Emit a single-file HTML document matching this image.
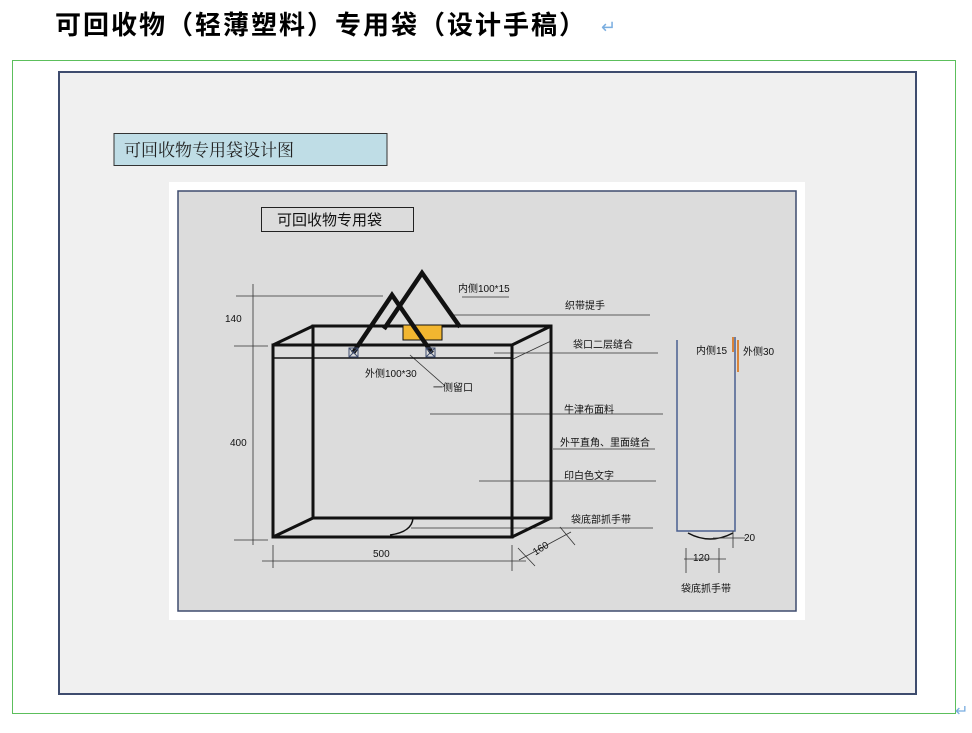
<!DOCTYPE html>
<html><head><meta charset="utf-8"><style>
body{margin:0;width:972px;height:728px;background:#fff;overflow:hidden;font-family:"Liberation Sans","Noto Sans CJK SC",sans-serif}
</style></head><body>
<svg width="972" height="728" xmlns="http://www.w3.org/2000/svg" font-family="Liberation Sans, Noto Sans CJK SC, sans-serif">
<text x="55" y="34" font-size="26" font-weight="bold" letter-spacing="2" fill="#000">可回收物（轻薄塑料）专用袋（设计手稿）</text>
<text x="601" y="33" font-size="18" fill="#7aaee0">↵</text>
<rect x="12.5" y="60.5" width="943" height="653" fill="none" stroke="#5cbf5c" stroke-width="1"/>
<text x="955" y="716" font-size="16" fill="#7aaee0">↵</text>
<rect x="59" y="72" width="857" height="622" fill="#f0f0f0" stroke="#3e4c6e" stroke-width="2"/>
<rect x="114" y="133.5" width="273" height="32" fill="#bfdde6" stroke="#333" stroke-width="1"/>
<text x="124" y="156" font-size="17" font-family="Noto Serif CJK SC, serif" fill="#222">可回收物专用袋设计图</text>
<rect x="169" y="182" width="636" height="438" fill="#fff"/>
<rect x="178" y="191" width="618" height="420" fill="#dcdcdc" stroke="#3e4c6e" stroke-width="1.5"/>
<rect x="261.5" y="207.5" width="152" height="24" fill="#dcdcdc" stroke="#222" stroke-width="1"/>
<text x="277" y="225" font-size="15" fill="#111">可回收物专用袋</text>
<g stroke="#111" fill="none">
<g stroke-width="0.8" stroke="#333">
<line x1="253" y1="284" x2="253" y2="545"/>
<line x1="236" y1="296" x2="383" y2="296"/>
<line x1="234" y1="346" x2="268" y2="346"/>
<line x1="234" y1="540" x2="268" y2="540"/>
<line x1="262" y1="561" x2="526" y2="561"/>
<line x1="273" y1="545" x2="273" y2="568"/>
<line x1="512" y1="545" x2="512" y2="571"/>
<line x1="519" y1="560" x2="571" y2="532"/>
<line x1="518" y1="548" x2="535" y2="566"/>
<line x1="560" y1="527" x2="575" y2="545"/>
<line x1="462" y1="297" x2="509" y2="297"/>
<line x1="452" y1="315" x2="650" y2="315"/>
<line x1="494" y1="353" x2="658" y2="353"/>
<line x1="511" y1="360" x2="551" y2="341"/>
<line x1="410" y1="355" x2="444" y2="385"/>
<line x1="430" y1="414" x2="663" y2="414"/>
<line x1="553" y1="449" x2="655" y2="449"/>
<line x1="479" y1="481" x2="656" y2="481"/>
<line x1="411" y1="528" x2="653" y2="528"/>
</g>
<g stroke-width="3">
<polyline points="313,518 313,326 551,326 551,518 313,518"/>
<rect x="273" y="345" width="239" height="192"/>
<line x1="273" y1="345" x2="313" y2="326"/>
<line x1="512" y1="345" x2="551" y2="326"/>
<line x1="273" y1="537" x2="313" y2="518"/>
<line x1="512" y1="537" x2="551" y2="518"/>
</g>
<line x1="273" y1="358" x2="512" y2="358" stroke-width="1.5"/>
<path d="M390,535 Q412,532 413,518" stroke-width="1.5"/>
<rect x="403" y="325" width="39" height="15" fill="#f2b630" stroke="#111" stroke-width="1"/>
<g stroke-width="4.5" stroke-linejoin="miter">
<polyline points="353,353 392,295 432,353"/>
<polyline points="384,329 422,273 460,327"/>
</g>
<g stroke="#3e4c6e" stroke-width="1"><rect x="349" y="348" width="9" height="9"/><line x1="349" y1="348" x2="358" y2="357"/><line x1="358" y1="348" x2="349" y2="357"/>
<rect x="426" y="348" width="9" height="9"/><line x1="426" y1="348" x2="435" y2="357"/><line x1="435" y1="348" x2="426" y2="357"/></g>
<polyline points="677,340 677,531 735,531 735,337" stroke="#4a5f90" stroke-width="1.5"/>
<line x1="733" y1="337" x2="733" y2="352" stroke="#d9853a" stroke-width="2"/>
<line x1="738" y1="340" x2="738" y2="372" stroke="#d9853a" stroke-width="2"/>
<path d="M688,533 Q710,545 733,533" stroke-width="1.5"/>
<g stroke-width="0.8" stroke="#333">
<line x1="713" y1="538" x2="745" y2="538"/>
<line x1="733" y1="531" x2="733" y2="548"/>
<line x1="684" y1="559" x2="726" y2="559"/>
<line x1="686" y1="548" x2="686" y2="573"/>
<line x1="719" y1="548" x2="719" y2="573"/>
</g>
</g>
<g font-size="10" fill="#111">
<text x="225" y="322">140</text>
<text x="230" y="446">400</text>
<text x="373" y="557">500</text>
<text x="532" y="552" transform="rotate(-32 540 548)">160</text>
<text x="458" y="292">内侧100*15</text>
<text x="565" y="309">织带提手</text>
<text x="573" y="348">袋口二层缝合</text>
<text x="365" y="377">外侧100*30</text>
<text x="433" y="391">一侧留口</text>
<text x="564" y="413">牛津布面料</text>
<text x="560" y="446">外平直角、里面缝合</text>
<text x="564" y="479">印白色文字</text>
<text x="571" y="523">袋底部抓手带</text>
<text x="696" y="354">内侧15</text>
<text x="743" y="355">外侧30</text>
<text x="744" y="541">20</text>
<text x="693" y="561">120</text>
<text x="681" y="592">袋底抓手带</text>
</g>
</svg>
</body></html>
